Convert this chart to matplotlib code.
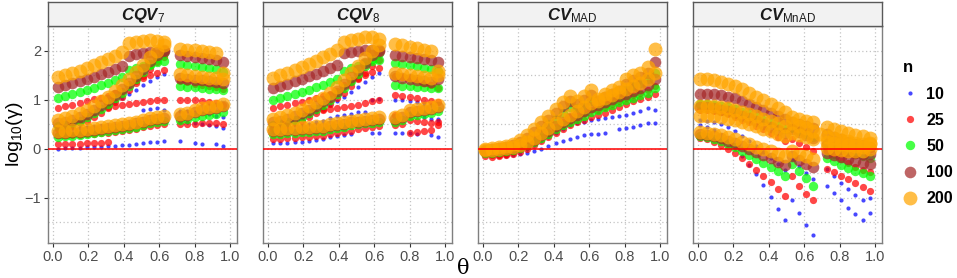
import numpy as np
import matplotlib
matplotlib.use('Agg')
import matplotlib.pyplot as plt
from matplotlib.lines import Line2D

# ---------------- data ----------------
N_LEVELS = [10, 25, 50, 100, 200]
COLORS = ['#0000FF', '#FF0000', '#00FF00', '#A52A2A', '#FFA500']
PANEL_TITLES = [r'$CQV_{\mathrm{7}}$', r'$CQV_{\mathrm{8}}$', r'$CV_{\mathrm{MAD}}$', r'$CV_{\mathrm{MnAD}}$']
X_TICKS = [0.0, 0.2, 0.4, 0.6, 0.8, 1.0]
Y_TICKS = [-1, 0, 1, 2]

# theta grid for CQV panels (gap between 0.63 and 0.72)
THETA_Q = [0.03, 0.07, 0.11, 0.15, 0.19, 0.23, 0.27, 0.31, 0.35, 0.39, 0.43, 0.47, 0.51, 0.55, 0.59, 0.63,
           0.72, 0.76, 0.80, 0.84, 0.88, 0.92, 0.96]
# theta grid for CV panels
THETA_M = [0.01, 0.05, 0.09, 0.13, 0.17, 0.21, 0.25, 0.29, 0.33, 0.37, 0.41, 0.45, 0.49, 0.53, 0.57, 0.61,
           0.65, 0.69, 0.73, 0.77, 0.81, 0.85, 0.89, 0.93, 0.97]

# ---- CQV7: log10(gamma) bands per n ----
CQV7_10 = [
    [0.43, 0.47, 0.52, 0.58, 0.65, 0.72, 0.80, 0.88, 0.96, 1.04, 1.12, 1.21, 1.30, 1.38, 1.46, 1.53, 0.78, 0.77, 0.75, 0.73, 0.71, 0.68, 0.65],
    [0.41, 0.42, 0.42, 0.43, 0.44, 0.45, 0.46, 0.47, 0.48, 0.50, 0.52, 0.54, 0.80, 0.82, 0.84, 0.80, 0.56, 0.55, 0.52, 0.50, 0.48, 0.46, 0.43],
    [0.00, 0.01, 0.01, 0.02, 0.03, 0.04, 0.05, 0.06, 0.07, 0.08, 0.09, 0.10, 0.12, 0.14, 0.15, 0.16, 0.17, None, 0.12, 0.10, None, 0.10, 0.07],
]
CQV7_25 = [
    [0.84, 0.87, 0.90, 0.93, 0.97, 1.01, 1.05, 1.09, 1.14, 1.19, 1.32, 1.38, 1.44, 1.50, 1.56, 1.62, 1.38, 1.37, 1.32, 1.30, 1.28, 1.26, 1.22],
    [0.40, 0.43, 0.47, 0.52, 0.58, 0.65, 0.74, 0.84, 0.95, 1.07, 1.20, 1.34, 1.49, 1.64, 1.77, 1.87, 1.00, 1.00, 1.00, 0.98, 0.96, 0.93, 0.90],
    [None, None, None, None, None, None, None, 0.86, 0.88, 0.90, 0.92, 0.94, 0.96, 0.97, 0.99, 1.00, 0.50, 0.50, 0.50, 0.52, 0.53, 0.52, 0.50],
    [0.28, 0.28, 0.29, 0.29, 0.30, 0.31, 0.32, 0.33, 0.35, 0.37, 0.39, 0.41, 0.44, 0.47, 0.49, 0.51, None, None, None, None, None, None, None],
    [0.10, 0.10, 0.11, 0.11, 0.12, 0.12, 0.13, 0.14, None, None, None, None, None, None, None, None, None, None, None, None, None, None, None],
]
CQV7_50 = [
    [1.05, 1.09, 1.13, 1.17, 1.21, 1.25, 1.30, 1.35, 1.40, 1.46, 1.62, 1.66, 1.70, 1.74, 1.77, 1.80, 1.74, 1.72, 1.70, 1.68, 1.66, 1.64, 1.58],
    [0.46, 0.49, 0.53, 0.58, 0.65, 0.73, 0.82, 0.92, 1.03, 1.15, 1.28, 1.42, 1.57, 1.72, 1.85, 1.96, 1.28, 1.27, 1.26, 1.25, 1.23, 1.22, 1.20],
    [0.25, 0.26, 0.27, 0.28, 0.30, 0.32, 0.34, 0.36, 0.38, 0.40, 0.42, 0.45, 0.48, 0.52, 0.55, 0.58, 0.60, 0.62, 0.65, 0.68, 0.70, 0.72, 0.75],
]
CQV7_100 = [
    [1.26, 1.30, 1.34, 1.38, 1.42, 1.47, 1.52, 1.57, 1.63, 1.69, 1.90, 1.93, 1.95, 1.97, 1.98, 1.99, 1.92, 1.90, 1.88, 1.86, 1.84, 1.82, 1.78],
    [0.52, 0.55, 0.59, 0.65, 0.72, 0.80, 0.89, 0.99, 1.10, 1.22, 1.35, 1.49, 1.64, 1.79, 1.92, 2.03, 1.45, 1.43, 1.41, 1.40, 1.38, 1.37, 1.35],
    [0.32, 0.33, 0.34, 0.35, 0.37, 0.39, 0.41, 0.43, 0.45, 0.47, 0.49, 0.52, 0.55, 0.59, 0.62, 0.64, 0.68, 0.70, 0.75, 0.79, 0.81, 0.83, 0.87],
]
CQV7_200 = [
    [1.46, 1.50, 1.55, 1.60, 1.65, 1.71, 1.77, 1.83, 1.90, 1.97, 2.17, 2.19, 2.21, 2.22, 2.21, 2.18, 2.05, 2.03, 2.01, 1.99, 1.97, 1.95, 1.55],
    [0.60, 0.63, 0.67, 0.73, 0.80, 0.88, 0.97, 1.07, 1.18, 1.30, 1.43, 1.57, 1.72, 1.87, 2.00, 2.12, 1.52, 1.50, 1.48, 1.47, 1.45, 1.45, 1.42],
    [0.36, 0.37, 0.38, 0.39, 0.41, 0.43, 0.45, 0.47, 0.49, 0.51, 0.53, 0.56, 0.59, 0.63, 0.66, 0.68, 0.72, 0.74, 0.80, 0.84, 0.86, 0.88, 0.92],
]

# ---- CQV8 ----
CQV8_10 = [
    [0.43, 0.47, 0.51, 0.56, 0.62, 0.68, 0.75, 0.82, 0.90, 0.98, 1.07, 1.16, 1.26, 1.36, 1.46, 1.55, 1.00, 0.99, 0.98, 0.96, 0.94, 0.90, 0.62],
    [0.32, None, 0.38, None, 0.46, 0.50, 0.54, 0.58, 0.64, 0.68, 0.70, 0.72, 0.75, 0.76, 1.00, 1.02, None, None, 0.72, 0.70, 0.66, 0.62, 0.58],
    [0.12, 0.12, 0.13, 0.14, 0.15, 0.16, 0.18, 0.20, 0.25, 0.27, 0.28, 0.30, None, None, 0.33, 0.33, 0.33, 0.33, 0.32, 0.30, None, 0.28, 0.25],
]
CQV8_25 = [
    [0.84, 0.87, 0.90, 0.93, 0.96, 1.00, 1.04, 1.08, 1.13, 1.18, 1.30, 1.37, 1.44, 1.51, 1.58, 1.65, 1.48, 1.47, 1.45, 1.40, 1.35, 1.30, 1.24],
    [0.40, 0.43, 0.47, 0.52, 0.58, 0.65, 0.73, 0.82, 0.92, 1.03, 1.15, 1.28, 1.42, 1.56, 1.70, 1.82, 1.10, 1.08, 1.06, 1.03, 1.00, 0.97, 0.95],
    [None, None, None, None, None, None, None, 0.80, 0.82, 0.84, 0.86, 0.88, 0.90, 0.94, 0.97, 1.00, 0.70, None, 0.60, 0.58, 0.55, 0.52, 0.48],
    [0.20, 0.21, 0.22, 0.23, 0.24, 0.25, 0.26, 0.27, 0.30, 0.32, 0.34, 0.37, 0.40, 0.42, 0.44, 0.46, 0.48, 0.50, 0.32, 0.34, 0.36, 0.38, 0.55],
]
CQV8_50 = [
    [1.00, 1.04, 1.08, 1.12, 1.16, 1.21, 1.26, 1.31, 1.37, 1.43, 1.60, 1.65, 1.70, 1.75, 1.79, 1.82, 1.76, 1.74, 1.72, 1.69, 1.66, 1.63, 1.60],
    [0.48, 0.51, 0.55, 0.60, 0.66, 0.73, 0.81, 0.90, 1.00, 1.12, 1.25, 1.39, 1.54, 1.69, 1.84, 1.95, 1.30, 1.29, 1.28, 1.27, 1.26, 1.25, 1.25],
    [0.30, 0.31, 0.32, 0.33, 0.34, 0.35, 0.36, 0.37, 0.40, 0.42, 0.45, 0.48, 0.50, 0.52, 0.53, 0.55, 0.56, 0.60, 0.68, 0.70, 0.72, 0.74, 0.78],
]
CQV8_100 = [
    [1.24, 1.28, 1.33, 1.38, 1.43, 1.48, 1.53, 1.59, 1.65, 1.72, 1.95, 1.98, 2.00, 2.02, 2.02, 2.00, 1.92, 1.90, 1.88, 1.86, 1.84, 1.81, 1.78],
    [0.55, 0.58, 0.62, 0.67, 0.73, 0.80, 0.88, 0.97, 1.07, 1.19, 1.32, 1.46, 1.61, 1.76, 1.91, 2.02, 1.48, 1.45, 1.43, 1.41, 1.39, 1.37, 1.42],
    [0.36, 0.37, 0.38, 0.39, 0.40, 0.41, 0.42, 0.43, 0.46, 0.48, 0.51, 0.54, 0.56, 0.58, 0.59, 0.61, 0.62, 0.66, 0.75, 0.77, 0.79, 0.81, 0.85],
]
CQV8_200 = [
    [1.45, 1.50, 1.55, 1.61, 1.67, 1.73, 1.80, 1.87, 1.94, 2.02, 2.18, 2.22, 2.25, 2.28, 2.28, 2.25, 2.15, 2.12, 2.09, 2.06, 2.03, 2.00, 1.60],
    [0.62, 0.65, 0.69, 0.74, 0.80, 0.87, 0.95, 1.05, 1.15, 1.27, 1.40, 1.55, 1.70, 1.85, 2.00, 2.12, 1.55, 1.52, 1.50, 1.48, 1.46, 1.44, 1.50],
    [0.40, 0.41, 0.42, 0.43, 0.44, 0.45, 0.46, 0.47, 0.50, 0.52, 0.55, 0.58, 0.60, 0.62, 0.63, 0.65, 0.66, 0.70, 0.80, 0.82, 0.84, 0.86, 0.90],
]

# ---- CV_MAD ----
CVMAD_10 = [
    [-0.05, -0.08, -0.10, -0.10, -0.08, -0.05, 0.00, 0.08, 0.16, 0.24, 0.32, 0.40, 0.48, 0.52, 0.56, 0.60, 0.62, 0.64, 0.66, 0.68, 0.70, 0.74, 0.78, 0.84, 0.80],
    [-0.10, -0.12, -0.14, -0.14, -0.12, -0.10, -0.08, -0.04, 0.00, 0.06, 0.12, 0.16, 0.20, 0.24, 0.28, 0.30, 0.30, 0.32, None, 0.40, 0.42, 0.45, 0.48, 0.52, 0.52],
]
CVMAD_25 = [
    [-0.10, -0.12, -0.12, -0.10, -0.06, -0.01, 0.06, 0.15, 0.25, 0.35, 0.45, 0.55, 0.65, 0.68, 0.74, 0.80, 0.80, 0.86, 0.92, 0.98, 1.04, 1.10, 1.15, 1.20, 1.28],
    [-0.15, -0.16, -0.15, -0.13, -0.10, -0.06, 0.00, 0.08, 0.16, 0.24, 0.32, 0.40, 0.48, 0.54, 0.60, 0.66, 0.70, 0.74, 0.80, 0.86, 0.92, 0.98, 1.02, 1.06, 1.12],
]
CVMAD_50 = [
    [-0.04, -0.03, -0.02, 0.01, 0.05, 0.10, 0.18, 0.27, 0.38, 0.50, 0.62, 0.74, 0.86, 0.84, 0.90, 0.98, 0.92, 0.98, 1.04, 1.10, 1.20, 1.28, 1.34, 1.42, 1.56],
    [-0.08, -0.08, -0.07, -0.05, -0.02, 0.02, 0.08, 0.15, 0.23, 0.31, 0.40, 0.48, 0.56, 0.62, 0.68, 0.75, 0.80, 0.85, 0.90, 0.95, 1.00, 1.05, 1.10, 1.15, 1.25],
]
CVMAD_100 = [
    [-0.02, -0.01, 0.01, 0.04, 0.08, 0.14, 0.23, 0.34, 0.47, 0.60, 0.74, 0.87, 0.98, 0.92, 1.00, 1.10, 0.98, 1.06, 1.13, 1.18, 1.32, 1.40, 1.46, 1.56, 1.78],
    [-0.04, -0.04, -0.03, -0.01, 0.02, 0.06, 0.12, 0.19, 0.28, 0.37, 0.46, 0.55, 0.63, 0.70, 0.78, 0.85, 0.90, 0.96, 1.02, 1.08, 1.13, 1.18, 1.24, 1.30, 1.42],
]
CVMAD_200 = [
    [0.00, 0.01, 0.03, 0.06, 0.11, 0.18, 0.28, 0.40, 0.54, 0.68, 0.82, 0.96, 1.08, 0.98, 1.08, 1.20, 1.02, 1.12, 1.20, 1.26, 1.42, 1.50, 1.56, 1.68, 2.05],
    [-0.02, -0.02, -0.01, 0.01, 0.04, 0.08, 0.14, 0.22, 0.32, 0.42, 0.52, 0.62, 0.70, 0.78, 0.86, 0.94, 0.98, 1.04, 1.10, 1.16, 1.22, 1.28, 1.34, 1.42, 1.55],
]

# ---- CV_MnAD ----
CVMNAD_10 = [
    [0.60, 0.58, 0.55, 0.50, 0.44, 0.36, 0.27, 0.17, 0.06, -0.06, -0.18, -0.30, -0.42, -0.20, -0.35, -0.50, -0.62, None, -0.40, -0.55, -0.70, -0.82, -0.95, -1.05, -1.00],
    [0.48, 0.44, 0.38, 0.28, 0.16, 0.02, -0.14, -0.32, -0.52, -0.74, -0.98, -1.22, -1.46, -1.05, -1.30, -1.55, -1.75, None, -0.75, -0.90, -1.05, -1.20, -1.32, -1.45, -1.30],
]
CVMNAD_25 = [
    [0.80, 0.80, 0.78, 0.75, 0.71, 0.66, 0.60, 0.54, 0.47, 0.40, 0.32, 0.24, 0.16, 0.20, 0.12, 0.04, -0.04, None, -0.05, -0.12, -0.20, -0.28, -0.36, -0.42, -0.48],
    [0.22, 0.20, 0.15, 0.08, 0.00, -0.09, -0.19, -0.30, -0.42, -0.55, -0.68, -0.82, -0.96, -0.55, -0.75, -0.92, -1.05, None, -0.40, -0.48, -0.55, -0.62, -0.70, -0.78, -0.85],
]
CVMNAD_50 = [
    [0.92, 0.92, 0.90, 0.88, 0.85, 0.81, 0.76, 0.71, 0.65, 0.59, 0.53, 0.47, 0.41, 0.42, 0.36, 0.30, 0.25, None, 0.12, 0.06, 0.00, -0.05, -0.10, -0.14, -0.18],
    [0.26, 0.25, 0.21, 0.16, 0.10, 0.03, -0.04, -0.12, -0.20, -0.28, -0.37, -0.46, -0.55, -0.30, -0.45, -0.60, -0.75, None, -0.18, -0.25, -0.32, -0.38, -0.44, -0.50, -0.55],
]
CVMNAD_100 = [
    [1.13, 1.13, 1.12, 1.10, 1.07, 1.03, 0.98, 0.92, 0.86, 0.80, 0.74, 0.68, 0.62, 0.55, 0.50, 0.46, 0.42, None, 0.30, 0.25, 0.20, 0.15, 0.11, 0.08, 0.05],
    [0.85, 0.85, 0.83, 0.80, 0.77, 0.73, 0.68, 0.63, 0.57, 0.51, 0.45, 0.39, 0.33, 0.40, 0.34, 0.28, 0.22, None, 0.10, 0.05, 0.00, -0.04, -0.08, -0.10, -0.10],
    [0.30, 0.29, 0.26, 0.22, 0.17, 0.12, 0.06, 0.00, -0.06, -0.12, -0.19, -0.26, -0.33, -0.15, -0.22, -0.30, -0.36, None, -0.08, -0.12, -0.16, -0.20, -0.24, -0.28, -0.30],
]
CVMNAD_200 = [
    [1.42, 1.42, 1.40, 1.37, 1.33, 1.28, 1.22, 1.15, 1.07, 0.99, 0.91, 0.83, 0.75, 0.66, 0.62, 0.58, 0.54, None, 0.45, 0.40, 0.36, 0.32, 0.29, 0.26, 0.23],
    [0.88, 0.88, 0.87, 0.85, 0.83, 0.80, 0.76, 0.72, 0.67, 0.62, 0.57, 0.52, 0.47, 0.52, 0.47, 0.42, 0.37, 0.30, 0.25, 0.22, 0.19, 0.16, 0.13, 0.11, 0.10],
    [0.68, 0.68, 0.67, 0.65, 0.62, 0.59, 0.55, 0.51, 0.46, 0.41, 0.36, 0.31, 0.26, 0.32, 0.28, 0.24, 0.20, None, 0.15, 0.12, 0.10, 0.08, 0.06, 0.05, 0.12],
    [0.34, 0.33, 0.31, 0.28, 0.24, 0.20, 0.15, 0.10, 0.05, 0.00, -0.05, -0.10, -0.15, -0.05, -0.10, -0.15, -0.20, None, 0.02, 0.00, -0.02, -0.04, -0.05, -0.04, 0.00],
]

PANEL_DATA = [
    (THETA_Q, [CQV7_10, CQV7_25, CQV7_50, CQV7_100, CQV7_200]),
    (THETA_Q, [CQV8_10, CQV8_25, CQV8_50, CQV8_100, CQV8_200]),
    (THETA_M, [CVMAD_10, CVMAD_25, CVMAD_50, CVMAD_100, CVMAD_200]),
    (THETA_M, [CVMNAD_10, CVMNAD_25, CVMNAD_50, CVMNAD_100, CVMNAD_200]),
]

# ---------------- style ----------------
plt.rcParams['font.family'] = ['Liberation Sans', 'DejaVu Sans']
plt.rcParams['mathtext.fontset'] = 'custom'
plt.rcParams['mathtext.it'] = 'Liberation Sans:italic:bold'
plt.rcParams['mathtext.rm'] = 'Liberation Sans'
plt.rcParams['mathtext.bf'] = 'Liberation Sans:bold'

MARKER_S = [9, 27, 46, 70, 100]
ALPHA = 0.72

W, H = 957, 278
fig = plt.figure(figsize=(W / 100, H / 100), dpi=100)

panel_left = [48, 263, 478, 693]
panel_w = 189
top_px, bot_px = 26, 243
strip_top = 2

for i, (theta, series) in enumerate(PANEL_DATA):
    l = panel_left[i] / W
    b = (H - bot_px) / H
    ax = fig.add_axes([l, b, panel_w / W, (bot_px - top_px) / H])
    ax.set_facecolor('white')
    for v in [-1.5, -1, -0.5, 0, 0.5, 1, 1.5, 2]:
        ax.axhline(v, color='#C4C4C4', lw=0.9, ls=(0, (1, 2)), zorder=0)
    for v in X_TICKS:
        ax.axvline(v, color='#C4C4C4', lw=0.9, ls=(0, (1, 2)), zorder=0)
    for k, bands in enumerate(series):
        ys = np.array(bands, dtype=float)
        xs = np.tile(np.array(theta, dtype=float), ys.shape[0])
        ys = ys.ravel()
        ax.scatter(xs, ys, s=MARKER_S[k], c=COLORS[k], alpha=ALPHA,
                   linewidths=0, zorder=2 + k)
    ax.axhline(0, color='#FF0000', lw=1.1, zorder=10)
    ax.set_xlim(-0.028, 1.04)
    ax.set_ylim(-1.92, 2.51)
    ax.set_xticks(X_TICKS)
    ax.set_xticklabels(['0.0', '0.2', '0.4', '0.6', '0.8', '1.0'])
    ax.set_yticks(Y_TICKS)
    if i == 0:
        ax.set_yticklabels(['\u22121', '0', '1', '2'])
        ax.tick_params(axis='y', length=3, width=0.8, colors='#333333',
                       labelcolor='#4D4D4D', labelsize=10.5, pad=2)
    else:
        ax.tick_params(axis='y', length=0, labelleft=False)
    ax.tick_params(axis='x', length=3, width=0.8, colors='#333333',
                   labelcolor='#4D4D4D', labelsize=10.5, pad=2)
    for sp in ax.spines.values():
        sp.set_color('#7F7F7F')
        sp.set_linewidth(1.0)

    # strip
    sax = fig.add_axes([l, (H - top_px) / H, panel_w / W, (top_px - strip_top) / H])
    sax.set_facecolor('#F2F2F2')
    sax.set_xticks([])
    sax.set_yticks([])
    for sp in sax.spines.values():
        sp.set_color('#595959')
        sp.set_linewidth(1.0)
    sax.text(0.5, 0.45, PANEL_TITLES[i], ha='center', va='center',
             fontsize=12, color='#1A1A1A', transform=sax.transAxes)

# axis titles
fig.text(15 / W, 1 - 134.5 / H, r'log$_{\mathrm{10}}$(γ)', rotation=90,
         ha='center', va='center', fontsize=14, color='black')
fig.text(463 / W, 1 - 268 / H, 'θ', ha='center', va='center', fontsize=15,
         family='DejaVu Serif', color='black')

# legend
handles = [Line2D([], [], ls='none', marker='o', markersize=np.sqrt(MARKER_S[k]),
                  markerfacecolor=COLORS[k], markeredgewidth=0, alpha=ALPHA)
           for k in range(len(N_LEVELS))]
leg = fig.legend(handles, [str(n) for n in N_LEVELS], title='n',
                 loc='upper left', bbox_to_anchor=(896 / W, 1 - 54 / H),
                 frameon=False, prop={'weight': 'bold', 'size': 11.5},
                 title_fontproperties={'weight': 'bold', 'size': 12},
                 labelspacing=0.70, handletextpad=0.5, handlelength=1.0,
                 borderaxespad=0.0)
leg._legend_box.align = 'left'

fig.savefig('out.png', dpi=100)
